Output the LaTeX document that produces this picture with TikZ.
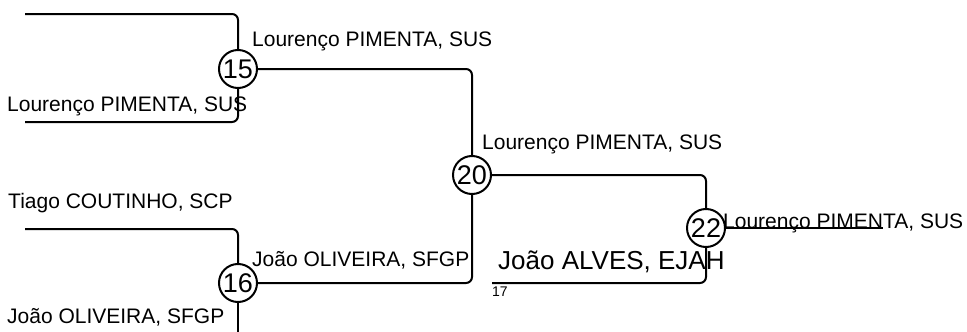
\documentclass[tikz,border=0pt]{standalone}
\usepackage{fontspec}
\setmainfont{Liberation Sans}
\begin{document}
\begin{tikzpicture}[x=1pt,y=-1pt,
  match/.style={circle,draw,line width=2pt,minimum size=38pt,inner sep=0pt,font=\fontsize{27}{27}\selectfont},
  lbl/.style={anchor=base west,inner sep=0pt,font=\fontsize{21}{21}\selectfont},
  biglbl/.style={anchor=base west,inner sep=0pt,font=\fontsize{26}{26}\selectfont},
  smalllbl/.style={anchor=base west,inner sep=0pt,font=\fontsize{14}{14}\selectfont},
  conn/.style={rounded corners=6pt,line width=2pt}]
\useasboundingbox (0,0) rectangle (967,332);
\node[match] (m15) at (238,69) {15};
\node[match] (m20) at (472,175) {20};
\node[match] (m16) at (238,283) {16};
\node[match] (m22) at (706,228) {22};
\coordinate (a1) at (25,14);
\coordinate (a2) at (25,122);
\coordinate (b1) at (25,229);
\coordinate (b2) at (238,336);
\coordinate (c17) at (492,283);
\coordinate (w) at (883,228);
\draw[conn] (a1) -| (m15.north);
\draw[conn] (a2) -| (m15.south);
\draw[conn] (m15.east) -| (m20.north);
\draw[conn] (m16.east) -| (m20.south);
\draw[conn] (b1) -| (m16.north);
\draw[conn] (m16.south) -- (b2);
\draw[conn] (m20.east) -| (m22.north);
\draw[conn] (c17) -| (m22.south);
\draw[conn] (m22.east) -- (w);
\node[lbl] (l1) at (252,46) {Lourenço PIMENTA, SUS};
\node[lbl] (l2) at (7,111) {Lourenço PIMENTA, SUS};
\node[lbl] (l3) at (482,149) {Lourenço PIMENTA, SUS};
\node[lbl] (l4) at (8,208) {Tiago COUTINHO, SCP};
\node[lbl] (l5) at (252,266) {João OLIVEIRA, SFGP};
\node[lbl] (l6) at (7,323) {João OLIVEIRA, SFGP};
\node[biglbl] (l7) at (498,269) {João ALVES, EJAH};
\node[smalllbl] (l8) at (492,296) {17};
\node[lbl] (l9) at (723,228) {Lourenço PIMENTA, SUS};
\end{tikzpicture}
\end{document}
